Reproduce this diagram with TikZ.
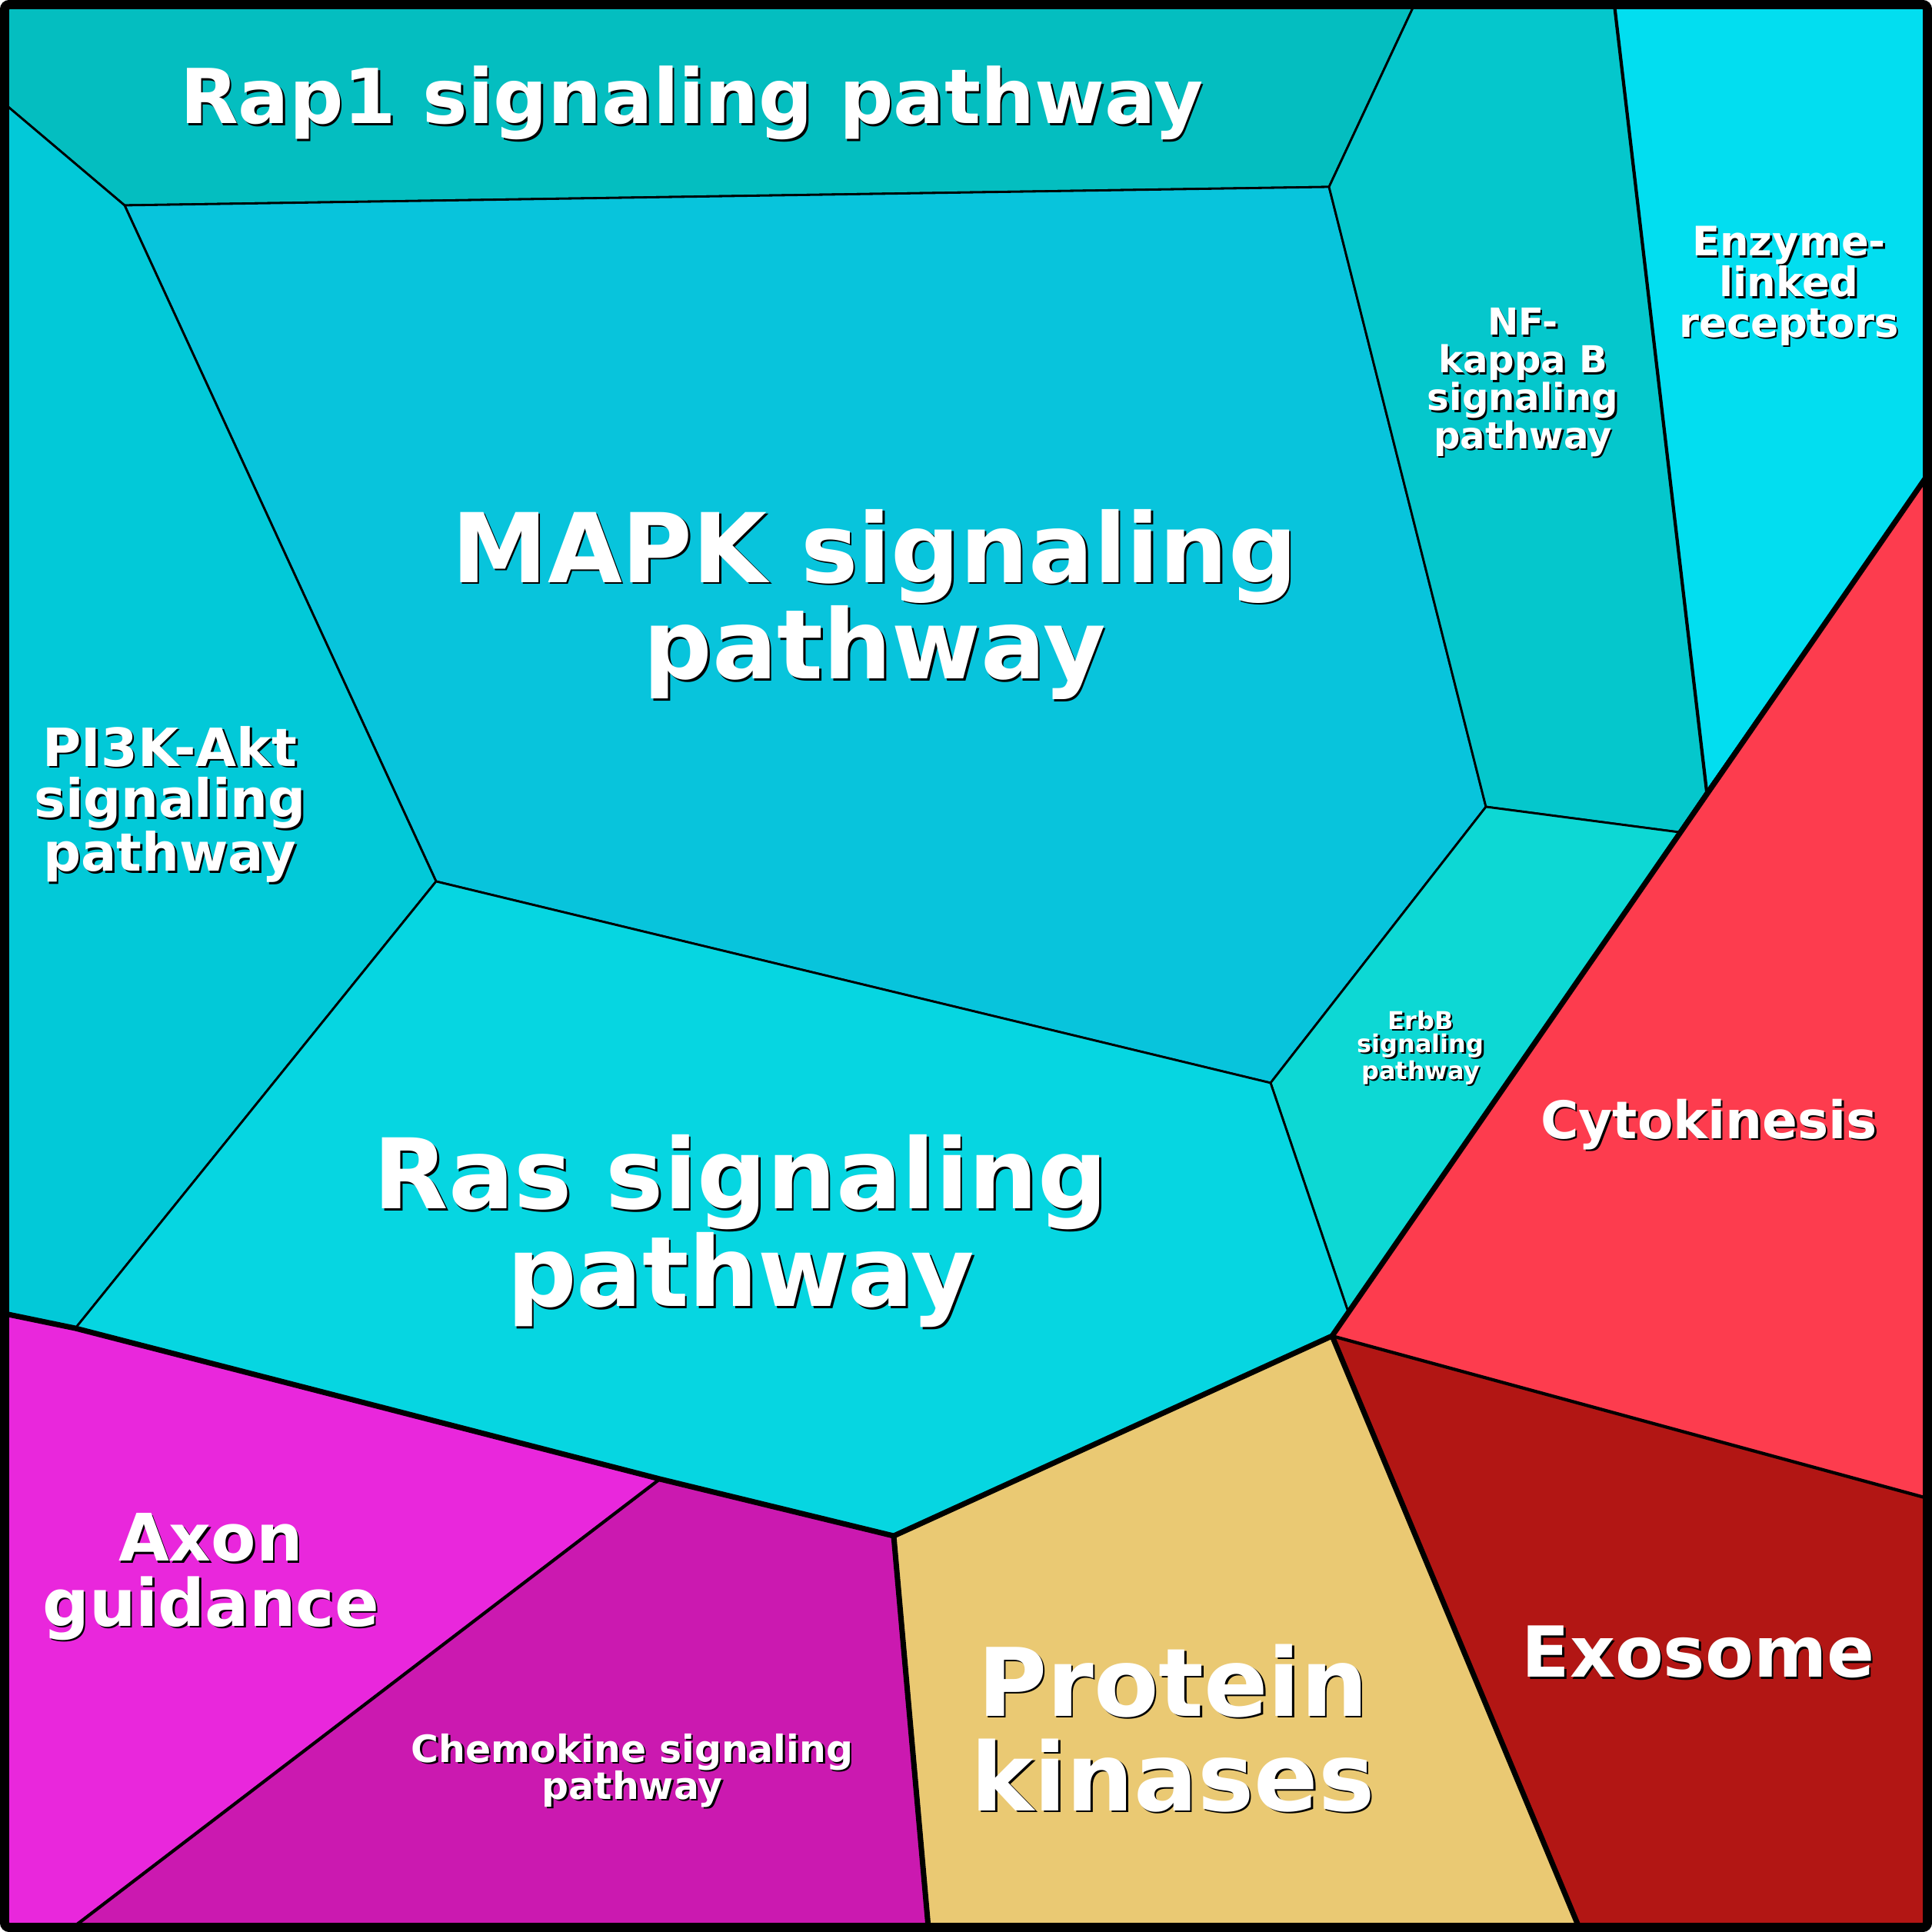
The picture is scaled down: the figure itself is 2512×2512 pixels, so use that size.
\documentclass[tikz,border=0pt]{standalone}
\usepackage{fontspec}
\setmainfont{DejaVu Sans}
\definecolor{rapone}{HTML}{04BEC0}
\definecolor{mapk}{HTML}{08C4DC}
\definecolor{nfkb}{HTML}{05C7CC}
\definecolor{enzyme}{HTML}{02DEF0}
\definecolor{pithree}{HTML}{02C9D8}
\definecolor{ras}{HTML}{06D6E1}
\definecolor{erbb}{HTML}{0DD8D4}
\definecolor{cyto}{HTML}{FD3C4E}
\definecolor{exosome}{HTML}{B21614}
\definecolor{kinase}{HTML}{EAC973}
\definecolor{axon}{HTML}{E927DC}
\definecolor{chemokine}{HTML}{CB19B0}
\tikzset{
	x=0.01cm, y=-0.01cm, % one unit is one pixel of the map
	cell/.style={draw=black, line width=0.8pt, line join=round}, % every cell of the map
	rim/.style={draw=black, line width=2pt, line join=round, line cap=round}, % between the top groups
	seam/.style={draw=black, line width=1.2pt, line cap=round}, % between the sub groups
	name text/.style={align=center, inner sep=0pt, font=\bfseries, text=white},
	name shade/.style={name text, text=black, xshift=0.25mm, yshift=-0.25mm},
}
% label with a dark shade behind it: name, place, size, skip, text
\newcommand{\maplabel}[5]{%
	\node[name shade, font=\fontsize{#3}{#4}\selectfont\bfseries] (#1-s) at #2 {#5};
	\node[name text, font=\fontsize{#3}{#4}\selectfont\bfseries] (#1) at #2 {#5};
}

\begin{document}
\begin{tikzpicture}
	\useasboundingbox (0,0) rectangle (2512,2512);
	\coordinate (TL) at (6,6);
	\coordinate (TR) at (2506,6);
	\coordinate (BR) at (2506,2506);
	\coordinate (BL) at (6,2506);
	\coordinate (A) at (6,135);
	\coordinate (B) at (162,267);
	\coordinate (C) at (1728,243);
	\coordinate (D) at (1839,6);
	\coordinate (E) at (2099,6);
	\coordinate (F) at (2219,1029);
	\coordinate (G) at (2506,618);
	\coordinate (H) at (2183,1082);
	\coordinate (I) at (1932,1049);
	\coordinate (K) at (1652,1408);
	\coordinate (O) at (1753,1706);
	\coordinate (P) at (1732,1737);
	\coordinate (Q) at (1162,1997);
	\coordinate (R) at (858,1923);
	\coordinate (M) at (98,1727);
	\coordinate (N) at (6,1708);
	\coordinate (L) at (567,1146);
	\coordinate (Sa) at (95,2506);
	\coordinate (Sb) at (1207,2506);
	\coordinate (Sc) at (2053,2506);
	\coordinate (Tc) at (2506,1948);

	\fill[rapone] (TL) -- (D) -- (C) -- (B) -- (A) -- cycle;
	\draw[cell] (D) -- (C) -- (B) -- (A);
	\path[cell, fill=mapk] (B) -- (C) -- (I) -- (K) -- (L) -- cycle;
	\path[cell, fill=nfkb] (D) -- (E) -- (F) -- (H) -- (I) -- (C) -- cycle;
	\path[cell, fill=enzyme] (E) -- (TR) -- (G) -- (F) -- cycle;
	\path[cell, fill=pithree] (A) -- (B) -- (L) -- (M) -- (N) -- cycle;
	\path[cell, fill=erbb] (I) -- (H) -- (O) -- (K) -- cycle;
	\path[cell, fill=ras] (L) -- (K) -- (O) -- (P) -- (Q) -- (R) -- (M) -- cycle;
	\path[cell, fill=cyto] (G) -- (Tc) -- (P) -- (O) -- (H) -- (F) -- cycle;
	\path[cell, fill=exosome] (P) -- (Tc) -- (BR) -- (Sc) -- cycle;
	\path[cell, fill=kinase] (Q) -- (P) -- (Sc) -- (Sb) -- cycle;
	\path[cell, fill=chemokine] (R) -- (Q) -- (Sb) -- (Sa) -- cycle;
	\path[cell, fill=axon] (N) -- (M) -- (R) -- (Sa) -- (BL) -- cycle;

	\draw[seam] (E) -- (F);
	\draw[seam] (R) -- (Sa);
	\draw[seam] (P) -- (Tc);
	\draw[rim] (N) -- (M) -- (R) -- (Q) -- (P) -- (G);
	\draw[rim] (Q) -- (Sb);
	\draw[rim] (P) -- (Sc);
	\draw[line width=3.41pt, rounded corners=0.6mm] (TL) rectangle (BR);

	\maplabel{rap}{(899,134)}{28}{28}{Rap1 signaling pathway}
	\maplabel{mapk}{(1137,786)}{35.6}{34.7}{MAPK signaling\\pathway}
	\maplabel{ras}{(963,1601)}{36}{34.7}{Ras signaling\\pathway}
	\maplabel{pik}{(221,1046)}{19.5}{18.8}{PI3K-Akt\\signaling\\pathway}
	\maplabel{nfkb}{(1980,497)}{13.7}{14}{NF-\\kappa B\\signaling\\pathway}
	\maplabel{enzyme}{(2326,372)}{15}{15}{Enzyme-\\linked\\receptors}
	\maplabel{erbb}{(1847,1362)}{9.1}{8.6}{ErbB\\signaling\\pathway}
	\maplabel{cyto}{(2222,1462)}{19.2}{19.2}{Cytokinesis}
	\maplabel{exosome}{(2208,2148)}{26}{26}{Exosome}
	\maplabel{kinase}{(1525,2247)}{35}{35}{Protein\\kinases}
	\maplabel{axon}{(274,2050)}{24.2}{24}{Axon\\guidance}
	\maplabel{chemokine}{(822,2302)}{13.9}{13.7}{Chemokine signaling\\pathway}
\end{tikzpicture}
\end{document}
